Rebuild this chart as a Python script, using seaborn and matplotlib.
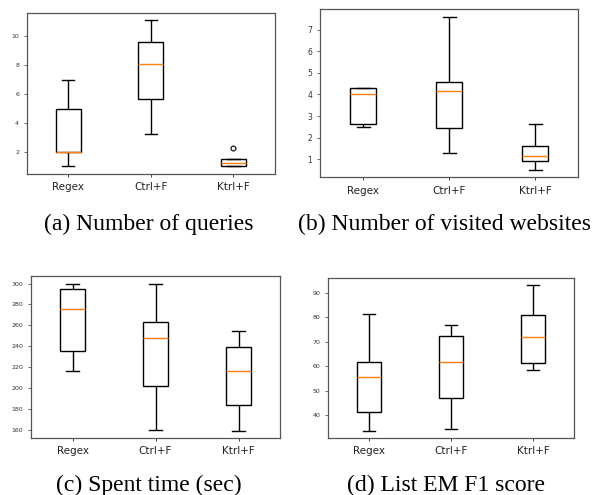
import pandas as pd
import seaborn as sns
import matplotlib.pyplot as plt

methods = ["Regex", "Ctrl+F", "Ktrl+F"]

queries = [[1.0, 2.0, 2.0, 5.0, 7.0],
           [3.26, 5.66, 8.04, 9.56, 11.1],
           [1.0, 1.0, 1.0, 1.5, 1.5, 2.3]]
websites = [[2.5, 2.61, 4.0, 4.3, 4.3],
            [1.29, 2.44, 4.14, 4.6, 7.6],
            [0.51, 0.91, 1.14, 1.61, 2.61]]
spent_time = [[215.8, 235.3, 275.5, 295.2, 300.0],
              [160.0, 201.4, 248.3, 262.7, 300.0],
              [159.0, 183.6, 216.7, 239.0, 255.0]]
f1_score = [[33.5, 41.3, 55.7, 61.7, 81.2],
            [34.3, 46.9, 61.8, 72.2, 76.7],
            [58.3, 61.1, 71.8, 80.9, 93.0]]

captions = ["(a) Number of queries", "(b) Number of visited websites",
            "(c) Spent time (sec)", "(d) List EM F1 score"]


def to_long(groups):
    rows = []
    for name, vals in zip(methods, groups):
        for v in vals:
            rows.append({"method": name, "value": v})
    return pd.DataFrame(rows)


fig = plt.figure(figsize=(5.96, 4.95), dpi=100)

# axes placement (left, bottom, width, height), ytick font size, caption centre in px
panels = [
    (queries, [0.045, 0.649, 0.416, 0.325], 4.5, (149, 224)),
    (websites, [0.537, 0.642, 0.433, 0.339], 5.5, (444, 224)),
    (spent_time, [0.052, 0.115, 0.418, 0.327], 4.5, (149, 485)),
    (f1_score, [0.550, 0.115, 0.413, 0.323], 4.5, (446, 485)),
]

for (groups, rect, yfs, cap_pos), cap in zip(panels, captions):
    ax = fig.add_axes(rect)
    df = to_long(groups)
    sns.boxplot(
        data=df, x="method", y="value", ax=ax,
        color="white", linecolor="black", linewidth=1,
        width=0.3, capwidths=0.15,
        medianprops={"color": "#ff7f0e", "linewidth": 1},
        flierprops={"marker": "o", "markerfacecolor": "none",
                    "markeredgecolor": "black", "markersize": 3.5,
                    "markeredgewidth": 0.8},
    )
    ax.set_xlabel("")
    ax.set_ylabel("")
    ax.tick_params(axis="x", labelsize=7.5, length=2.5, width=0.6, colors="#222")
    ax.tick_params(axis="y", labelsize=yfs, length=2, width=0.5, colors="#333")
    for s in ax.spines.values():
        s.set_color("#555")
        s.set_linewidth(0.9)
    fig.text(cap_pos[0] / 596, 1 - cap_pos[1] / 495, cap,
             ha="center", va="center", fontsize=17, family="Liberation Serif")

fig.savefig("out.png", dpi=100)
